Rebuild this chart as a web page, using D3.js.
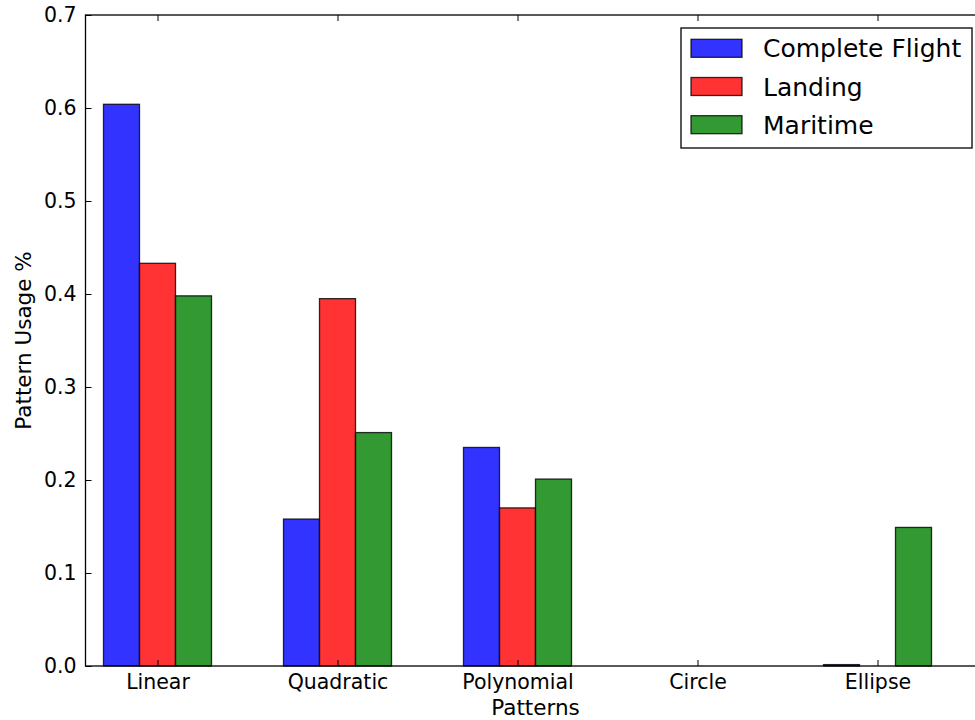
<!DOCTYPE html>
<html>
<head>
<meta charset="utf-8">
<script src="https://cdn.jsdelivr.net/npm/d3@7"></script>
<style>
  html, body { margin: 0; padding: 0; background: #fff; }
  svg { display: block; font-family: "DejaVu Sans", sans-serif; }
</style>
</head>
<body>
<svg id="chart" width="975" height="720"></svg>
<script>
// Pattern usage per flight dataset
const categories = ["Linear", "Quadratic", "Polynomial", "Circle", "Ellipse"];
const seriesNames = ["Complete Flight", "Landing", "Maritime"];
const completeFlight = [0.604, 0.158, 0.235, 0.0, 0.0015];
const landing = [0.433, 0.395, 0.170, 0.0, 0.0];
const maritime = [0.398, 0.251, 0.201, 0.0, 0.149];
const seriesColors = ["#0000ff", "#ff0000", "#008000"];
const yTicks = [0.0, 0.1, 0.2, 0.3, 0.4, 0.5, 0.6, 0.7];

const series = [completeFlight, landing, maritime];

const svg = d3.select("#chart");
const plotLeft = 85.5, plotRight = 985.5, plotTop = 15, plotBottom = 666;
const barW = 0.2;
const tickFont = 20.5, labelFont = 21.5, legendFont = 25;

const x = d3.scaleLinear().domain([-0.4, 4.6]).range([plotLeft, plotRight]);
const y = d3.scaleLinear().domain([0, 0.7]).range([plotBottom, plotTop]);

// bars
series.forEach((vals, j) => {
  svg.append("g")
    .selectAll("rect")
    .data(vals)
    .join("rect")
    .attr("x", (d, i) => x(i + (j - 1.5) * barW))
    .attr("width", x(barW) - x(0))
    .attr("y", d => y(d))
    .attr("height", d => y(0) - y(d))
    .attr("fill", seriesColors[j])
    .attr("fill-opacity", 0.8)
    .attr("stroke", "#000")
    .attr("stroke-opacity", 0.8)
    .attr("stroke-width", 1.3);
});

// axes frame
svg.append("rect")
  .attr("x", plotLeft).attr("y", plotTop)
  .attr("width", plotRight - plotLeft).attr("height", plotBottom - plotTop)
  .attr("fill", "none").attr("stroke", "#000").attr("stroke-width", 1.3);

// y axis (ticks pointing inward)
const yAxis = d3.axisLeft(y).tickValues(yTicks).tickFormat(d3.format(".1f")).tickSizeInner(-6).tickSizeOuter(0).tickPadding(9);
const gy = svg.append("g").attr("transform", `translate(${plotLeft},0)`).call(yAxis);
gy.select(".domain").remove();
gy.selectAll("line").attr("stroke", "#000").attr("stroke-width", 1);
gy.selectAll("text").attr("font-size", tickFont).attr("fill", "#000").attr("font-family", "DejaVu Sans");

// x axis
const xAxis = d3.axisBottom(x).tickValues(d3.range(categories.length)).tickFormat(i => categories[i]).tickSizeInner(-6).tickSizeOuter(0).tickPadding(8);
const gx = svg.append("g").attr("transform", `translate(0,${plotBottom})`).call(xAxis);
gx.select(".domain").remove();
gx.selectAll("line").attr("stroke", "#000").attr("stroke-width", 1);
gx.selectAll("text").attr("font-size", tickFont).attr("fill", "#000").attr("font-family", "DejaVu Sans");

// top ticks
const xTop = d3.axisTop(x).tickValues(d3.range(categories.length)).tickFormat("").tickSizeInner(-6).tickSizeOuter(0);
const gt = svg.append("g").attr("transform", `translate(0,${plotTop})`).call(xTop);
gt.select(".domain").remove();
gt.selectAll("line").attr("stroke", "#000").attr("stroke-width", 1);

// axis labels
svg.append("text")
  .attr("x", (plotLeft + plotRight) / 2).attr("y", 715)
  .attr("text-anchor", "middle").attr("font-size", labelFont).attr("fill", "#000")
  .text("Patterns");
svg.append("text")
  .attr("transform", `translate(31,${(plotTop + plotBottom) / 2}) rotate(-90)`)
  .attr("text-anchor", "middle").attr("font-size", labelFont).attr("fill", "#000")
  .text("Pattern Usage %");

// legend
const lg = svg.append("g").attr("transform", "translate(681,28)");
lg.append("rect").attr("width", 291).attr("height", 120).attr("fill", "#fff").attr("stroke", "#000").attr("stroke-width", 1.3);
seriesNames.forEach((name, j) => {
  const row = lg.append("g").attr("transform", `translate(10,${11.3 + j * 38.2})`);
  row.append("rect").attr("width", 51).attr("height", 18)
    .attr("fill", seriesColors[j]).attr("fill-opacity", 0.8)
    .attr("stroke", "#000").attr("stroke-opacity", 0.8).attr("stroke-width", 1.3);
  row.append("text").attr("x", 72).attr("y", 18)
    .attr("font-size", legendFont).attr("fill", "#000").text(name);
});
</script>
</body>
</html>
